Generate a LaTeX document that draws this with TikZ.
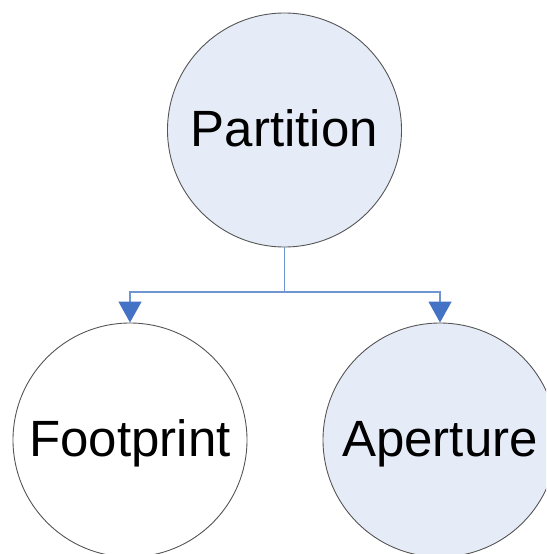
\documentclass[tikz,border=0pt]{standalone}
\usepackage{fontspec}
\setmainfont{Liberation Sans}
\usetikzlibrary{arrows.meta}
\definecolor{nodefill}{HTML}{E6ECF7}
\definecolor{linkblue}{HTML}{6F96D1}
\definecolor{tipblue}{HTML}{4472C4}
\definecolor{rimgray}{HTML}{555555}
\tikzset{
  bubble/.style={circle, draw=rimgray, line width=0.9pt, minimum size=234pt, inner sep=0pt,
    font=\fontsize{51}{51}\selectfont, text height=33pt, text depth=0pt},
  link/.style={draw=linkblue, line width=1.3pt, -{Triangle[width=23pt,length=21pt,fill=tipblue,color=tipblue]}},
  trunk/.style={draw=linkblue, line width=1.3pt}
}
\begin{document}
\begin{tikzpicture}[x=1pt,y=-1pt]
\useasboundingbox (0,0) rectangle (546,554);
\clip (0,0) rectangle (546,554);
\node[bubble, fill=nodefill] (P) at (284.5,130) {Partition};
\node[bubble, fill=white] (F) at (130,440) {Footprint};
\node[bubble, fill=nodefill] (A) at (440,440) {Aperture};
\draw[trunk] (P.south) -- (284.5,292) coordinate (j);
\draw[link] (j) -| (F.north);
\draw[link] (j) -| (A.north);
\end{tikzpicture}
\end{document}
